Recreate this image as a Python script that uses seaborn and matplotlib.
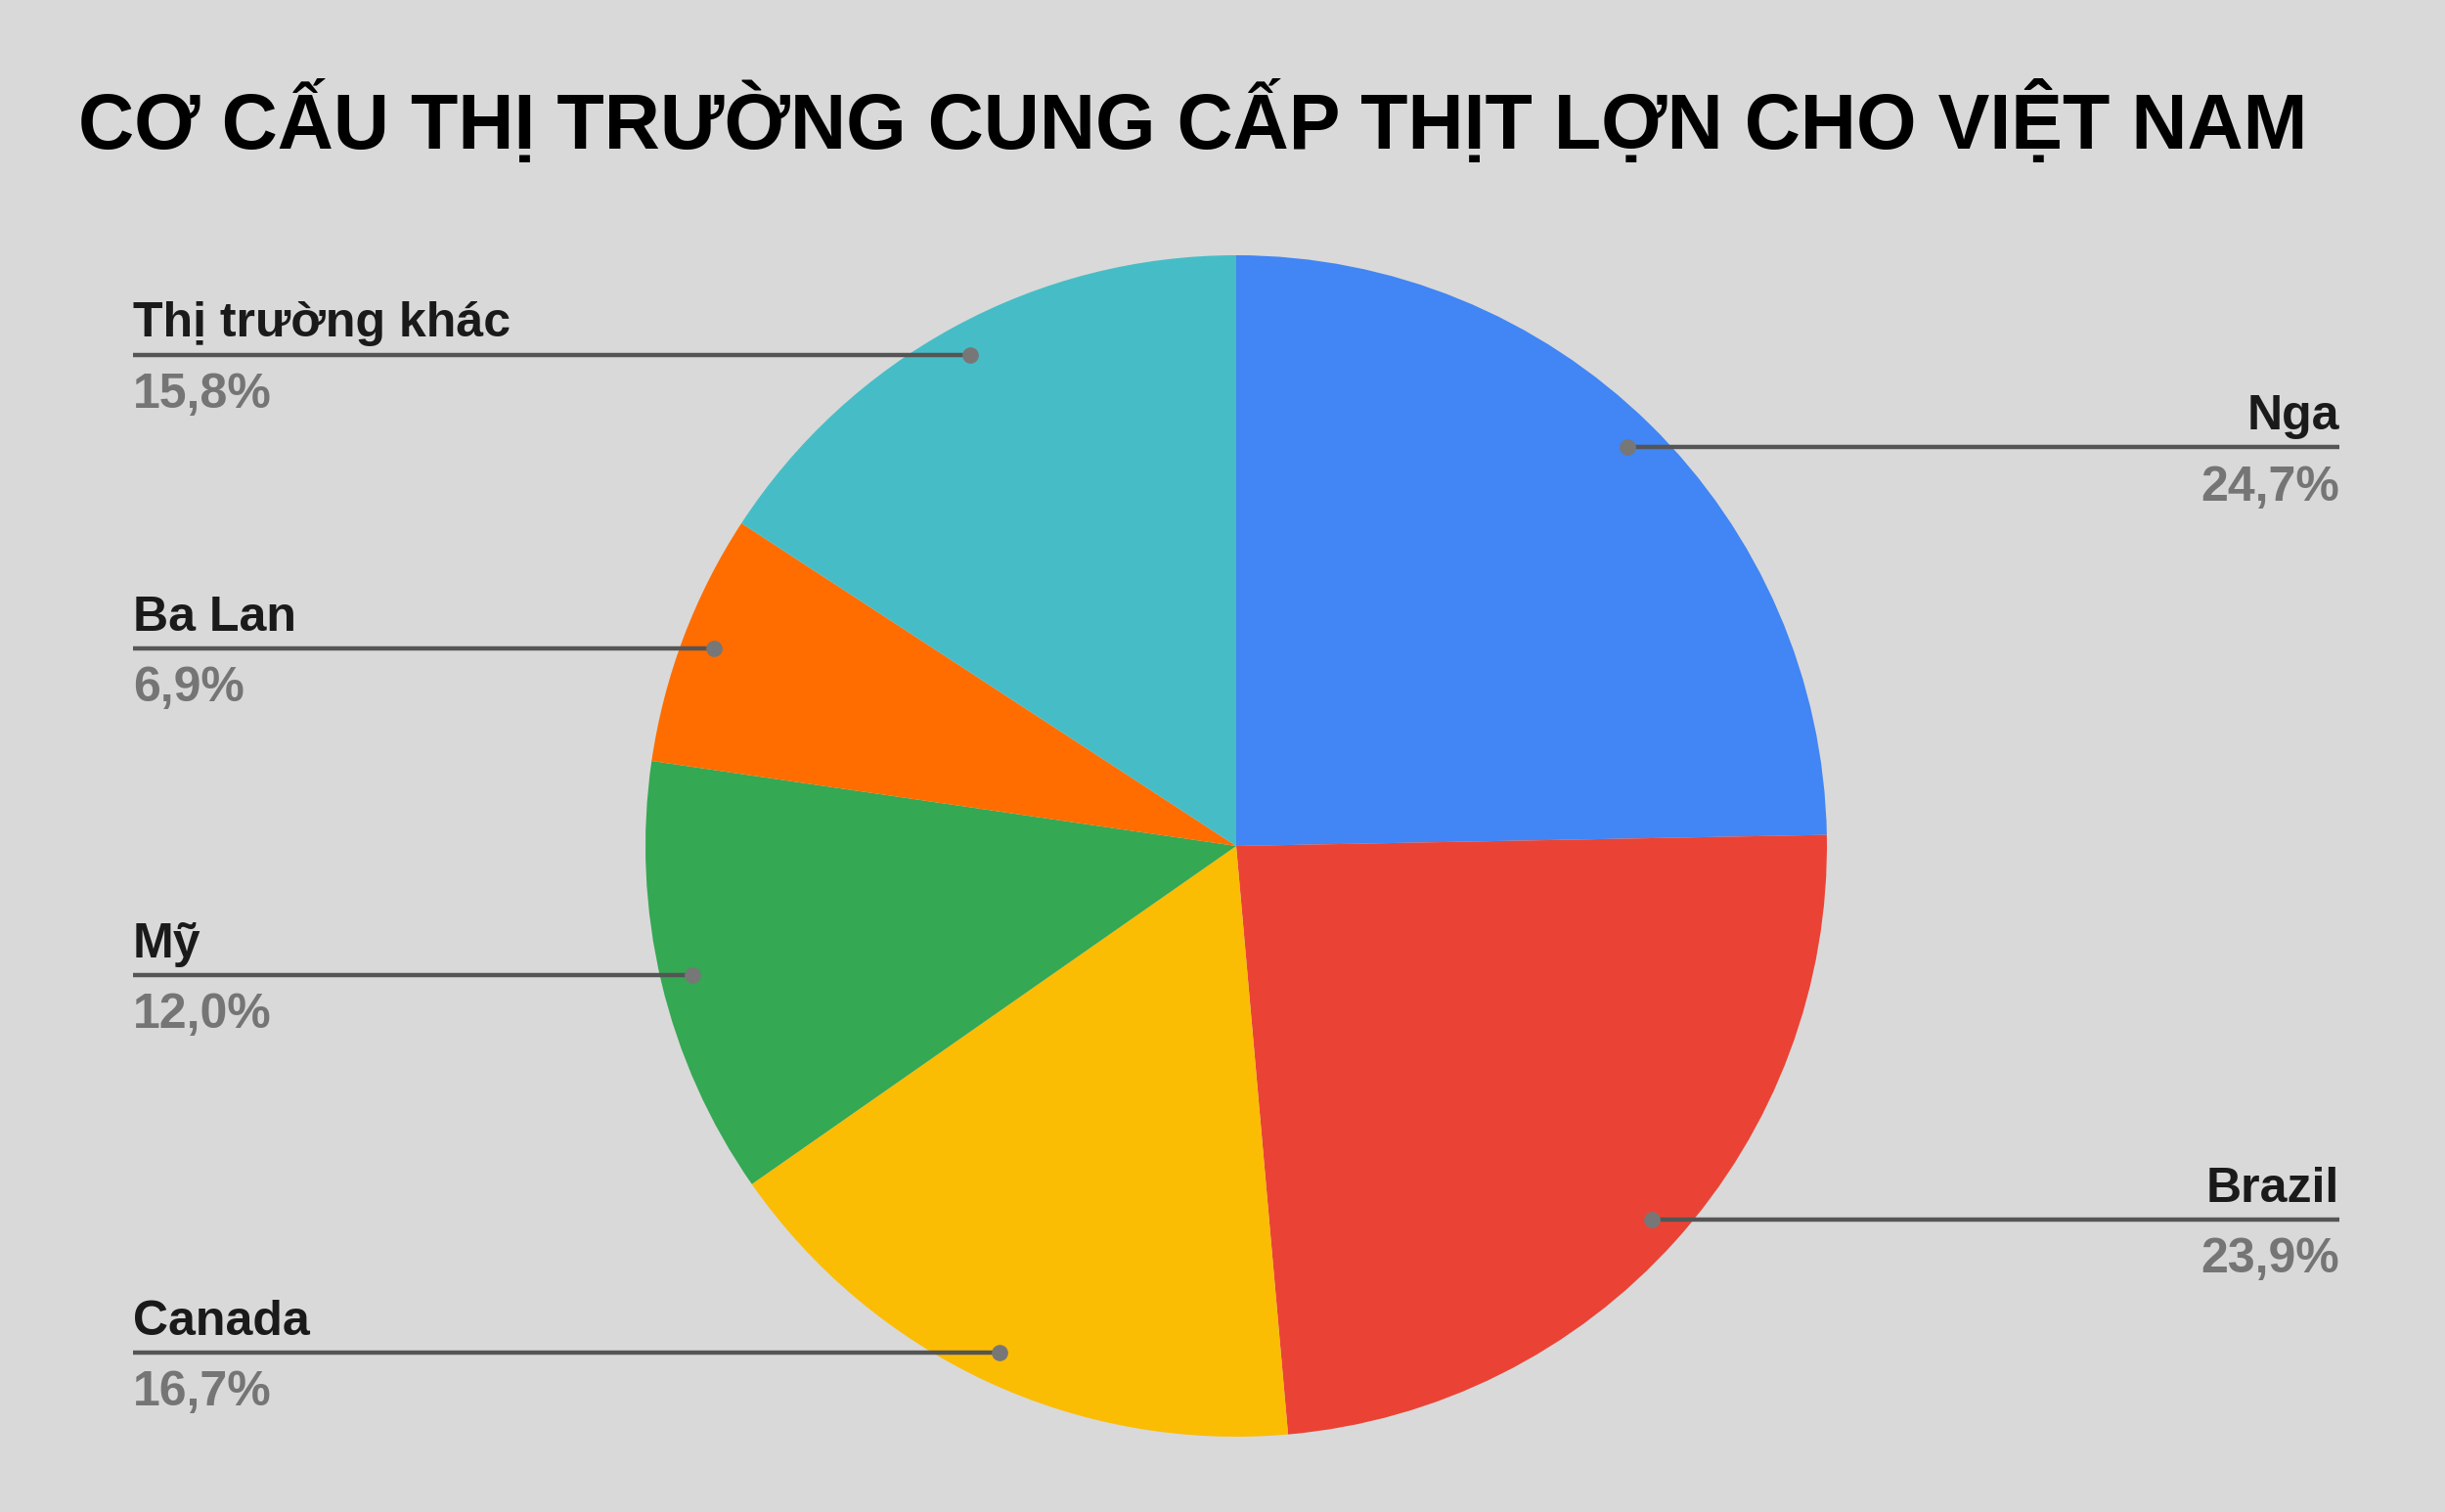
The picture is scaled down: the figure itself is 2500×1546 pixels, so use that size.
import numpy as np
import matplotlib
matplotlib.use("Agg")
import matplotlib.pyplot as plt
import seaborn as sns

# Data
categories = ["Nga", "Brazil", "Canada", "Mỹ", "Ba Lan", "Thị trường khác"]
shares = [24.7, 23.9, 16.7, 12.0, 6.9, 15.8]
pct_labels = ["24,7%", "23,9%", "16,7%", "12,0%", "6,9%", "15,8%"]
colors = ["#4285F4", "#EA4335", "#FBBC04", "#34A853", "#FF6D01", "#46BDC6"]
title = "CƠ CẤU THỊ TRƯỜNG CUNG CẤP THỊT LỢN CHO VIỆT NAM"

BG = "#D9D9D9"
sns.set_theme(style="white", rc={"figure.facecolor": BG, "axes.facecolor": BG})
plt.rcParams["font.family"] = ["Liberation Sans", "DejaVu Sans"]

W, H = 2500, 1546
fig = plt.figure(figsize=(W / 100, H / 100), dpi=100)
ax = fig.add_axes([0, 0, 1, 1])
ax.set_facecolor(BG)

cx, cy, R = 1264, 865, 604  # pixel center (from top), radius

wedges, _ = ax.pie(shares, colors=colors, startangle=90, counterclock=False,
                   radius=1.0, center=(0, 0), wedgeprops=dict(linewidth=0))
ax.set_xlim(-cx / R, (W - cx) / R)
ax.set_ylim(-(H - cy) / R, cy / R)
ax.set_aspect("equal")
ax.axis("off")

label_x = 1128 / R
line_col = "#555555"
dot_col = "#777777"
total = sum(shares)
cum = 0.0
for name, val, pl in zip(categories, shares, pct_labels):
    mid = (cum + val / 2) / total
    cum += val
    ang = np.deg2rad(90 - mid * 360)
    dx, dy = 0.946 * np.cos(ang), 0.946 * np.sin(ang)
    if dx >= 0:
        xe = label_x
        ha = "right"
    else:
        xe = -label_x
        ha = "left"
    ax.plot([dx, xe], [dy, dy], color=line_col, lw=3.2, solid_capstyle="butt", zorder=3)
    ax.plot([dx], [dy], "o", color=dot_col, ms=11, zorder=4)
    ax.text(xe, dy + 0.030, name, ha=ha, va="baseline", fontsize=36,
            fontweight="bold", color="#1a1a1a")
    ax.text(xe, dy - 0.090, pl, ha=ha, va="baseline", fontsize=36,
            fontweight="bold", color="#757575")

fig.text(80 / W, 1 - 126 / H, title, ha="left", va="center", fontsize=57,
         fontweight="bold", color="#000000")

fig.savefig("out.png", dpi=100, facecolor=BG)
